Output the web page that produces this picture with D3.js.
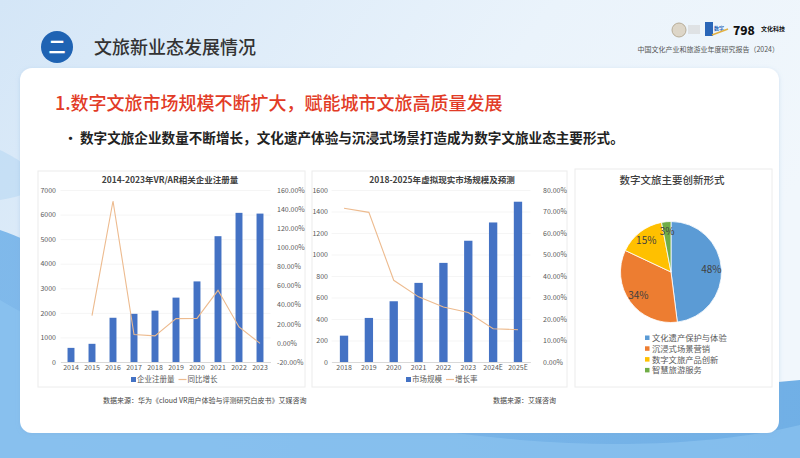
<!DOCTYPE html>
<html><head><meta charset="utf-8">
<script src="https://cdn.jsdelivr.net/npm/d3@7"></script>
<style>
html,body{margin:0;padding:0;overflow:hidden;background:#fff;}
svg{display:block;}
text{font-family:"Noto Sans CJK SC","Noto Sans",sans-serif;}
</style></head>
<body>
<svg id="c" width="800" height="458"></svg>
<script>
// ---------- data ----------
const years1 = ["2014","2015","2016","2017","2018","2019","2020","2021","2022","2023"];
const regCount = [575, 740, 1800, 1960, 2090, 2620, 3280, 5120, 6070, 6040];
const regGrowth = [null, 28.5, 148.5, 8.7, 7.3, 25.4, 25.6, 55.0, 16.7, -0.5];
const ticks1Left = [0,1000,2000,3000,4000,5000,6000,7000];
const ticks1Right = [-20,0,20,40,60,80,100,120,140,160];

const years2 = ["2018","2019","2020","2021","2022","2023","2024E","2025E"];
const marketSize = [245, 410, 565, 736, 922, 1128, 1298, 1491];
const marketGrowth = [71.5, 69.6, 38.0, 30.3, 25.6, 23.0, 15.5, 15.0];
const ticks2Left = [0,200,400,600,800,1000,1200,1400,1600];
const ticks2Right = [0,10,20,30,40,50,60,70,80];

const pieCats = ["文化遗产保护与体验","沉浸式场景营销","数字文旅产品创新","智慧旅游服务"];
const pieVals = [48, 34, 15, 3];
const pieColors = ["#5B9BD5","#ED7D31","#FFC000","#70AD47"];

const svg = d3.select("#c");
const defs = svg.append("defs");

// ---------- background ----------
const bg = defs.append("linearGradient").attr("id","bg").attr("x1","0").attr("y1","0").attr("x2","1").attr("y2","0.4");
bg.append("stop").attr("offset","0").attr("stop-color","#d4e6f7");
bg.append("stop").attr("offset","0.6").attr("stop-color","#eaf3fb");
bg.append("stop").attr("offset","1").attr("stop-color","#f1f7fc");
svg.append("rect").attr("width",800).attr("height",458).attr("fill","url(#bg)");
const wv = defs.append("linearGradient").attr("id","wv").attr("x1","0").attr("y1","0").attr("x2","1").attr("y2","0");
wv.append("stop").attr("offset","0").attr("stop-color","#6fb0e8");
wv.append("stop").attr("offset","1").attr("stop-color","#5aa3e2");
svg.append("path").attr("d","M0,230 C60,250 120,300 200,330 C320,380 500,410 800,380 L800,458 L0,458 Z").attr("fill","url(#wv)").attr("opacity",0.85);
svg.append("path").attr("d","M0,300 C100,360 300,420 520,440 C640,450 740,440 800,425 L800,458 L0,458 Z").attr("fill","#8cc3ef").attr("opacity",0.7);
svg.append("path").attr("d","M0,150 C40,170 60,190 0,200 Z").attr("fill","#b9d8f3").attr("opacity",0.6);

// ---------- header ----------
svg.append("circle").attr("cx",57).attr("cy",47).attr("r",16).attr("fill","#1f63b3");
svg.append("text").attr("x",57).attr("y",53).attr("text-anchor","middle").attr("fill","#fff")
  .attr("font-size",17).attr("font-weight",700).text("二");
svg.append("text").attr("x",94).attr("y",54).attr("fill","#333").attr("font-size",18).attr("font-weight",500).text("文旅新业态发展情况");

// logos
svg.append("circle").attr("cx",679).attr("cy",30).attr("r",7).attr("fill","#ddd6c8").attr("stroke","#b8ad98").attr("stroke-width",1);
svg.append("rect").attr("x",688).attr("y",25).attr("width",12).attr("height",9).attr("fill","#d6d6d6").attr("opacity",0.6);
svg.append("rect").attr("x",705).attr("y",22).attr("width",8).attr("height",14).attr("fill","#2a66b8");
svg.append("text").attr("x",714).attr("y",30).attr("fill","#2a66b8").attr("font-size",5).attr("font-weight",700).text("数字");
svg.append("path").attr("d","M712,35 L728,29").attr("stroke","#e2b040").attr("stroke-width",1.5);
svg.append("text").attr("x",733).attr("y",35).attr("fill","#111").attr("font-size",12).attr("font-weight",900)
  .attr("font-family","'DejaVu Sans',sans-serif").text("798");
svg.append("text").attr("x",761).attr("y",31).attr("fill","#111").attr("font-size",6).attr("font-weight",700).text("文化科技");
svg.append("text").attr("x",779).attr("y",52).attr("text-anchor","end").attr("fill","#555").attr("font-size",7).text("中国文化产业和旅游业年度研究报告（2024）");

// ---------- panel ----------
defs.append("filter").attr("id","sh").attr("x","-5%").attr("y","-5%").attr("width","110%").attr("height","110%")
  .append("feDropShadow").attr("dx",0).attr("dy",1).attr("stdDeviation",2).attr("flood-color","#7aa9d6").attr("flood-opacity",0.3);
svg.append("rect").attr("x",20).attr("y",68).attr("width",759).attr("height",365).attr("rx",12).attr("fill","#fff").attr("filter","url(#sh)");

svg.append("text").attr("x",55).attr("y",110).attr("fill","#e23b26").attr("font-size",18).attr("font-weight",500)
  .text("1.数字文旅市场规模不断扩大，赋能城市文旅高质量发展");
svg.append("text").attr("x",64).attr("y",143).attr("fill","#222").attr("font-size",13).attr("font-weight",700).text("•");
svg.append("text").attr("x",80).attr("y",143).attr("fill","#222").attr("font-size",13.6).attr("font-weight",700)
  .text("数字文旅企业数量不断增长，文化遗产体验与沉浸式场景打造成为数字文旅业态主要形式。");

// chart boxes
[[38,171,267,216],[312,171,255,216],[575,169,197,218]].forEach(b=>{
  svg.append("rect").attr("x",b[0]).attr("y",b[1]).attr("width",b[2]).attr("height",b[3])
    .attr("fill","#fff").attr("stroke","#ececec").attr("stroke-width",1);
});

const BLUE = "#4472C4", LINE = "#EDBB8F", AX = "#595959";
const pct = v => v.toFixed(2) + "%";

function comboChart(o){
  const g = svg.append("g");
  const x = d3.scaleBand().domain(o.cats).range(o.xr).paddingInner(o.pad).paddingOuter(o.pad/2);
  const yL = d3.scaleLinear().domain(o.dL).range([362,190]);
  const yR = d3.scaleLinear().domain(o.dR).range([362,190]);
  // grid
  g.selectAll(".gr").data(o.tL).join("line").attr("x1",o.xr[0]).attr("x2",o.xr[1])
    .attr("y1",d=>yL(d)+0.5).attr("y2",d=>yL(d)+0.5).attr("stroke","#f5f5f5");
  // left axis
  const aL = g.append("g").attr("transform",`translate(${o.lx},0)`)
    .call(d3.axisLeft(yL).tickValues(o.tL).tickSize(0).tickPadding(0).tickFormat(d3.format("d")));
  aL.select(".domain").remove();
  aL.selectAll("text").attr("fill",AX).attr("font-size",7).attr("font-family","'Noto Sans',sans-serif");
  const aR = g.append("g").attr("transform",`translate(${o.rx},0)`)
    .call(d3.axisRight(yR).tickValues(o.tR).tickSize(0).tickPadding(0).tickFormat(pct));
  aR.select(".domain").remove();
  aR.selectAll("text").attr("fill",AX).attr("font-size",7).attr("font-family","'Noto Sans',sans-serif");
  const aB = g.append("g").attr("transform","translate(0,362)")
    .call(d3.axisBottom(x).tickSize(0).tickPadding(3));
  aB.select(".domain").attr("stroke","#d9d9d9");
  aB.selectAll("text").attr("fill",AX).attr("font-size",7).attr("font-family","'Noto Sans',sans-serif");
  // bars
  g.selectAll(".bar").data(o.vals).join("rect")
    .attr("x",(d,i)=>x(o.cats[i])).attr("width",x.bandwidth())
    .attr("y",d=>yL(d)).attr("height",d=>362-yL(d)).attr("fill",BLUE);
  // line
  const pts = o.line.map((v,i)=>v==null?null:[x(o.cats[i])+x.bandwidth()/2, yR(v)]).filter(p=>p);
  g.append("path").attr("d",d3.line()(pts)).attr("fill","none").attr("stroke",LINE).attr("stroke-width",1.1);
  // title
  g.append("text").attr("x",o.tx).attr("y",183).attr("text-anchor","middle").attr("fill","#404040")
    .attr("font-size",8.5).attr("font-weight",700).text(o.title);
  // legend
  const lg = g.append("g").attr("transform",`translate(${o.lgx},382)`);
  lg.append("rect").attr("x",0).attr("y",-5).attr("width",5).attr("height",5).attr("fill",BLUE);
  lg.append("text").attr("x",6).attr("y",0).attr("fill",AX).attr("font-size",7.5).text(o.l1);
  const w1 = 6 + o.l1.length*7.5 + 4;
  lg.append("line").attr("x1",w1).attr("x2",w1+8).attr("y1",-2.5).attr("y2",-2.5).attr("stroke",LINE).attr("stroke-width",1.2);
  lg.append("text").attr("x",w1+9).attr("y",0).attr("fill",AX).attr("font-size",7.5).text(o.l2);
}

comboChart({cats:years1, vals:regCount, line:regGrowth, xr:[60.5,270.5], pad:0.67,
  dL:[0,7000], dR:[-20,160], tL:ticks1Left, tR:ticks1Right, lx:56, rx:277,
  title:"2014-2023年VR/AR相关企业注册量", tx:170, l1:"企业注册量", l2:"同比增长", lgx:131});
comboChart({cats:years2, vals:marketSize, line:marketGrowth, xr:[331.6,530.4], pad:0.665,
  dL:[0,1600], dR:[0,80], tL:ticks2Left, tR:ticks2Right, lx:328, rx:543,
  title:"2018-2025年虚拟现实市场规模及预测", tx:442, l1:"市场规模", l2:"增长率", lgx:406});

// ---------- pie ----------
const pg = svg.append("g").attr("transform","translate(671,272)");
const pie = d3.pie().sort(null).value(d=>d)(pieVals);
const R = 50.5;
const arc = d3.arc().innerRadius(0).outerRadius(R);
const lab = d3.arc().innerRadius(R*0.8).outerRadius(R*0.8);
pg.selectAll("path").data(pie).join("path").attr("d",arc).attr("fill",(d,i)=>pieColors[i])
  .attr("stroke","#fff").attr("stroke-width",0.8);
pg.selectAll(".pl").data(pie).join("text").attr("transform",d=>`translate(${lab.centroid(d)})`)
  .attr("text-anchor","middle").attr("dy","0.35em").attr("fill","#404040").attr("font-size",10)
  .attr("font-family","'Noto Sans',sans-serif").text(d=>d.data+"%");
svg.append("text").attr("x",672).attr("y",184).attr("text-anchor","middle").attr("fill","#404040")
  .attr("font-size",10.5).attr("font-weight",500).text("数字文旅主要创新形式");
const plg = svg.append("g");
pieCats.forEach((c,i)=>{
  const y = 338 + i*10.8;
  plg.append("rect").attr("x",645).attr("y",y-2.5).attr("width",4.5).attr("height",4.5).attr("fill",pieColors[i]);
  plg.append("text").attr("x",652).attr("y",y+3).attr("fill","#595959").attr("font-size",8.3).text(c);
});

// ---------- sources ----------
svg.append("text").attr("x",103).attr("y",403).attr("fill","#444").attr("font-size",7)
  .text("数据来源：华为《cloud VR用户体验与评测研究白皮书》艾媒咨询");
svg.append("text").attr("x",493).attr("y",403).attr("fill","#444").attr("font-size",7).text("数据来源：艾媒咨询");
</script>
</body></html>
